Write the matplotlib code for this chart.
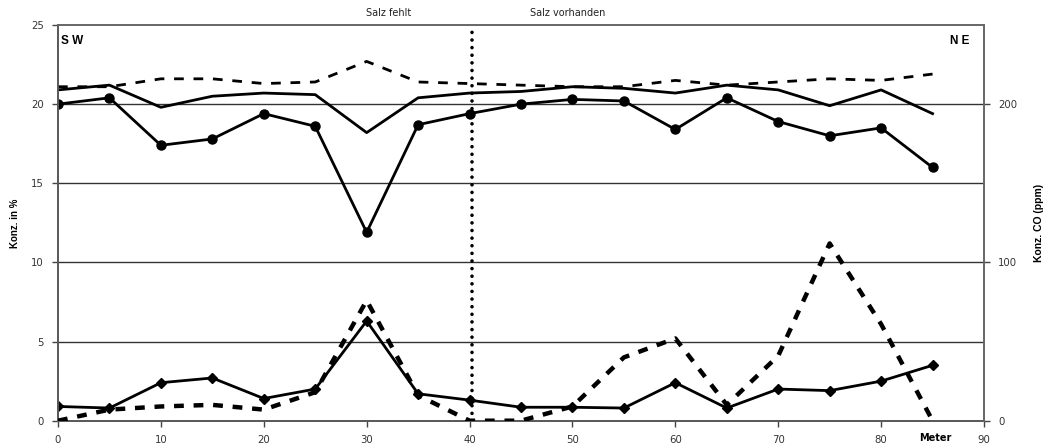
import matplotlib
matplotlib.use("Agg")
import matplotlib.pyplot as plt
import matplotlib.transforms as mtransforms
from matplotlib import font_manager

# Arial-kompatible Schrift (reguläre Breite, nicht "Narrow")
sans_regular = None
sans_bold = None
for path in font_manager.findSystemFonts():
    if path.endswith('LiberationSans-Regular.ttf'):
        sans_regular = font_manager.FontProperties(fname=path)
    elif path.endswith('LiberationSans-Bold.ttf'):
        sans_bold = font_manager.FontProperties(fname=path)
if sans_regular is None:
    sans_regular = font_manager.FontProperties(family='DejaVu Sans')
if sans_bold is None:
    sans_bold = font_manager.FontProperties(family='DejaVu Sans', weight='bold')

# Messpunkte entlang der Strecke (Meter)
meter = [0, 5, 10, 15, 20, 25, 30, 35, 40, 45, 50, 55, 60, 65, 70, 75, 80, 85]

# Konzentrationen in %
o2_punkte = [20.0, 20.4, 17.4, 17.8, 19.4, 18.6, 11.9, 18.7, 19.4, 20.0,
             20.3, 20.2, 18.4, 20.4, 18.9, 18.0, 18.5, 16.0]
o2_linie = [20.9, 21.2, 19.8, 20.5, 20.7, 20.6, 18.2, 20.4, 20.7, 20.8,
            21.1, 21.0, 20.7, 21.2, 20.9, 19.9, 20.9, 19.4]
o2_gestrichelt = [21.1, 21.1, 21.6, 21.6, 21.3, 21.4, 22.7, 21.4, 21.3, 21.2,
                  21.1, 21.1, 21.5, 21.2, 21.4, 21.6, 21.5, 21.9]
co2_rauten = [0.9, 0.8, 2.4, 2.7, 1.4, 2.0, 6.3, 1.7, 1.3, 0.85,
              0.85, 0.8, 2.4, 0.8, 2.0, 1.9, 2.5, 3.5]

# CO in ppm (rechte Achse)
co_ppm = [0, 7, 9, 10, 7, 18, 76, 16, 0, 0,
          9, 40, 52, 10, 41, 112, 61, 0]

x_ticks = [0, 10, 20, 30, 40, 50, 60, 70, 80, 90]
y_ticks_links = [0, 5, 10, 15, 20, 25]
y_ticks_rechts = [0, 100, 200]


def bold(size):
    fp = sans_bold.copy()
    fp.set_size(size)
    return fp


fig = plt.figure(figsize=(10.46, 4.47), dpi=100)
ax = fig.add_axes([58 / 1046, 1 - 420.7 / 447, (984 - 58) / 1046, (420.7 - 25) / 447])
ax2 = ax.twinx()

ax.set_xlim(0, 90)
ax.set_ylim(0, 25)
ax2.set_ylim(0, 250)

for y in [5, 10, 15, 20]:
    ax.axhline(y, color='#333333', lw=1.0, zorder=1)

ax.plot(meter, o2_gestrichelt, color='black', lw=2.0, ls=(0, (3.5, 3.5)), zorder=3)
ax.plot(meter, o2_linie, color='black', lw=2.0, zorder=3)
ax.plot(meter, o2_punkte, color='black', lw=2.0, marker='o', ms=6.5, zorder=4)
ax.plot(meter, co2_rauten, color='black', lw=2.0, marker='D', ms=5.5, zorder=4)
ax2.plot(meter, co_ppm, color='black', lw=3.2, ls=(0, (2.2, 2.2)), zorder=3)

ax.axvline(40.2, color='black', lw=2.6, ls=(0, (0.01, 2.1)),
           dash_capstyle='round', zorder=5)

ax.set_xticks(x_ticks)
ax.set_yticks(y_ticks_links)
ax2.set_yticks(y_ticks_rechts)

for a in (ax, ax2):
    a.tick_params(direction='out', length=4, width=1, color='#444444',
                  labelcolor='#333333', pad=6)
    for lbl in a.get_xticklabels() + a.get_yticklabels():
        lbl.set_fontfamily('DejaVu Sans')
        lbl.set_fontsize(7.3)
    for s in a.spines.values():
        s.set_color('#666666')
        s.set_linewidth(1.2)
ax.spines['left'].set_color('black')
ax.spines['bottom'].set_color('black')

ax.set_ylabel('Konz. in %', fontproperties=bold(7), labelpad=8)
ax2.set_ylabel('Konz. CO (ppm)', fontproperties=bold(7.5), labelpad=12)

ax.text(0.3, 24.0, 'S W', fontproperties=bold(8.5), va='center', ha='left')
ax.text(87.6, 24.0, 'N E', fontproperties=bold(8.5), va='center', ha='center')

trans = mtransforms.blended_transform_factory(ax.transData, fig.transFigure)
ax.text(32.1, 1 - 13 / 447, 'Salz fehlt', transform=trans, fontsize=7,
        family='DejaVu Sans', ha='center', va='center', color='#222222')
ax.text(49.5, 1 - 13 / 447, 'Salz vorhanden', transform=trans, fontsize=7,
        family='DejaVu Sans', ha='center', va='center', color='#222222')
ax.text(85.3, 1 - 438 / 447, 'Meter', transform=trans, fontsize=7,
        fontweight='bold', family='DejaVu Sans', ha='center', va='center')

fig.savefig('out.png', dpi=100)
